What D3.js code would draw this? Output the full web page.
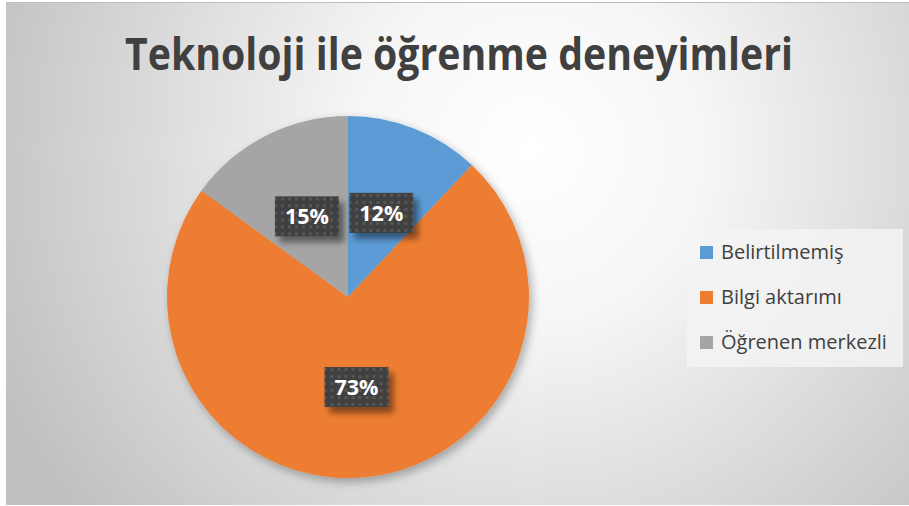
<!DOCTYPE html>
<html>
<head>
<meta charset="utf-8">
<script src="https://cdn.jsdelivr.net/npm/d3@7"></script>
<style>
  body { margin: 0; background: #fff; }
  svg { display: block; }
</style>
</head>
<body>
<script>
// chart data
var categories = ["Belirtilmemiş", "Bilgi aktarımı", "Öğrenen merkezli"];
var values = [12, 73, 15];
var colors = ["#5b9bd5", "#ed7d31", "#a5a5a5"];
var title = "Teknoloji ile öğrenme deneyimleri";

var width = 909, height = 506;
var cx = 348, cy = 297, radius = 181;

var svg = d3.select("body").append("svg")
    .attr("width", width)
    .attr("height", height);

var defs = svg.append("defs");

// background gradient
var grad = defs.append("radialGradient")
    .attr("id", "bg")
    .attr("gradientUnits", "userSpaceOnUse")
    .attr("cx", 530).attr("cy", 150).attr("r", 580);
grad.append("stop").attr("offset", "0%").attr("stop-color", "#ffffff");
grad.append("stop").attr("offset", "30%").attr("stop-color", "#f6f6f6");
grad.append("stop").attr("offset", "100%").attr("stop-color", "#c0c0c0");

// shadow for pie and labels
var sh = defs.append("filter").attr("id", "shadow")
    .attr("x", "-20%").attr("y", "-20%").attr("width", "140%").attr("height", "140%");
sh.append("feGaussianBlur").attr("in", "SourceAlpha").attr("stdDeviation", 5);
sh.append("feOffset").attr("dx", 3).attr("dy", 4).attr("result", "b");
sh.append("feComponentTransfer").append("feFuncA").attr("type", "linear").attr("slope", 0.3);
var m = sh.append("feMerge");
m.append("feMergeNode");
m.append("feMergeNode").attr("in", "SourceGraphic");

var sh2 = defs.append("filter").attr("id", "lblshadow")
    .attr("x", "-30%").attr("y", "-30%").attr("width", "160%").attr("height", "160%");
sh2.append("feGaussianBlur").attr("in", "SourceAlpha").attr("stdDeviation", 3);
sh2.append("feOffset").attr("dx", 5).attr("dy", 6).attr("result", "b");
sh2.append("feComponentTransfer").append("feFuncA").attr("type", "linear").attr("slope", 0.45);
var m2 = sh2.append("feMerge");
m2.append("feMergeNode");
m2.append("feMergeNode").attr("in", "SourceGraphic");

// dotted pattern for label boxes
var pat = defs.append("pattern")
    .attr("id", "dots")
    .attr("patternUnits", "userSpaceOnUse")
    .attr("width", 7).attr("height", 7);
pat.append("rect").attr("width", 7).attr("height", 7).attr("fill", "#3f3f3f");
pat.append("rect").attr("x", 2).attr("y", 2).attr("width", 3).attr("height", 3).attr("fill", "#575757");

// chart area
svg.append("rect")
    .attr("x", 6).attr("y", 2)
    .attr("width", width - 6).attr("height", 503)
    .attr("fill", "url(#bg)");
svg.append("line")
    .attr("x1", 6).attr("x2", width).attr("y1", 2.5).attr("y2", 2.5)
    .attr("stroke", "#bdbdbd");

// title
svg.append("text")
    .attr("x", 125).attr("y", 70)
    .attr("textLength", 668)
    .attr("lengthAdjust", "spacingAndGlyphs")
    .style("font-family", "'Open Sans', sans-serif")
    .style("font-weight", "bold")
    .style("font-size", "44px")
    .style("fill", "#404040")
    .text(title);

// pie
var pie = d3.pie().sort(null).value(d => d.value);
var data = categories.map((c, i) => ({ name: c, value: values[i], color: colors[i] }));
var arcs = pie(data);
var arc = d3.arc().innerRadius(0).outerRadius(radius);
var labelArc = d3.arc().innerRadius(radius * 0.5).outerRadius(radius * 0.5);

var pieGroup = svg.append("g")
    .attr("transform", `translate(${cx}, ${cy})`);

pieGroup.append("g")
    .attr("filter", "url(#shadow)")
    .selectAll("path")
    .data(arcs).enter().append("path")
    .attr("d", arc)
    .attr("fill", d => d.data.color);

var total = d3.sum(values);
var labels = pieGroup.selectAll("g.lbl")
    .data(arcs).enter().append("g")
    .attr("class", "lbl")
    .attr("transform", d => `translate(${labelArc.centroid(d)})`);

labels.append("rect")
    .attr("x", -32).attr("y", -20)
    .attr("width", 64).attr("height", 40)
    .attr("fill", "url(#dots)")
    .attr("filter", "url(#lblshadow)");

labels.append("text")
    .attr("text-anchor", "middle")
    .attr("y", 8)
    .attr("textLength", 44)
    .attr("lengthAdjust", "spacingAndGlyphs")
    .style("font-family", "'Open Sans', sans-serif")
    .style("font-weight", "bold")
    .style("font-size", "22px")
    .style("fill", "#ffffff")
    .text(d => Math.round(d.data.value / total * 100) + "%");

// legend
var legend = svg.append("g");
legend.append("rect")
    .attr("x", 687).attr("y", 229)
    .attr("width", 216).attr("height", 138)
    .attr("fill", "#f3f3f3")
    .attr("fill-opacity", 0.85);

var items = legend.selectAll("g.item")
    .data(data).enter().append("g")
    .attr("class", "item")
    .attr("transform", (d, i) => `translate(700, ${246 + i * 45})`);

items.append("rect")
    .attr("width", 13).attr("height", 13)
    .attr("fill", d => d.color);

items.append("text")
    .attr("x", 21).attr("y", 13)
    .style("font-family", "'Open Sans', sans-serif")
    .style("font-size", "20px")
    .style("fill", "#404040")
    .text(d => d.name);
</script>
</body>
</html>
